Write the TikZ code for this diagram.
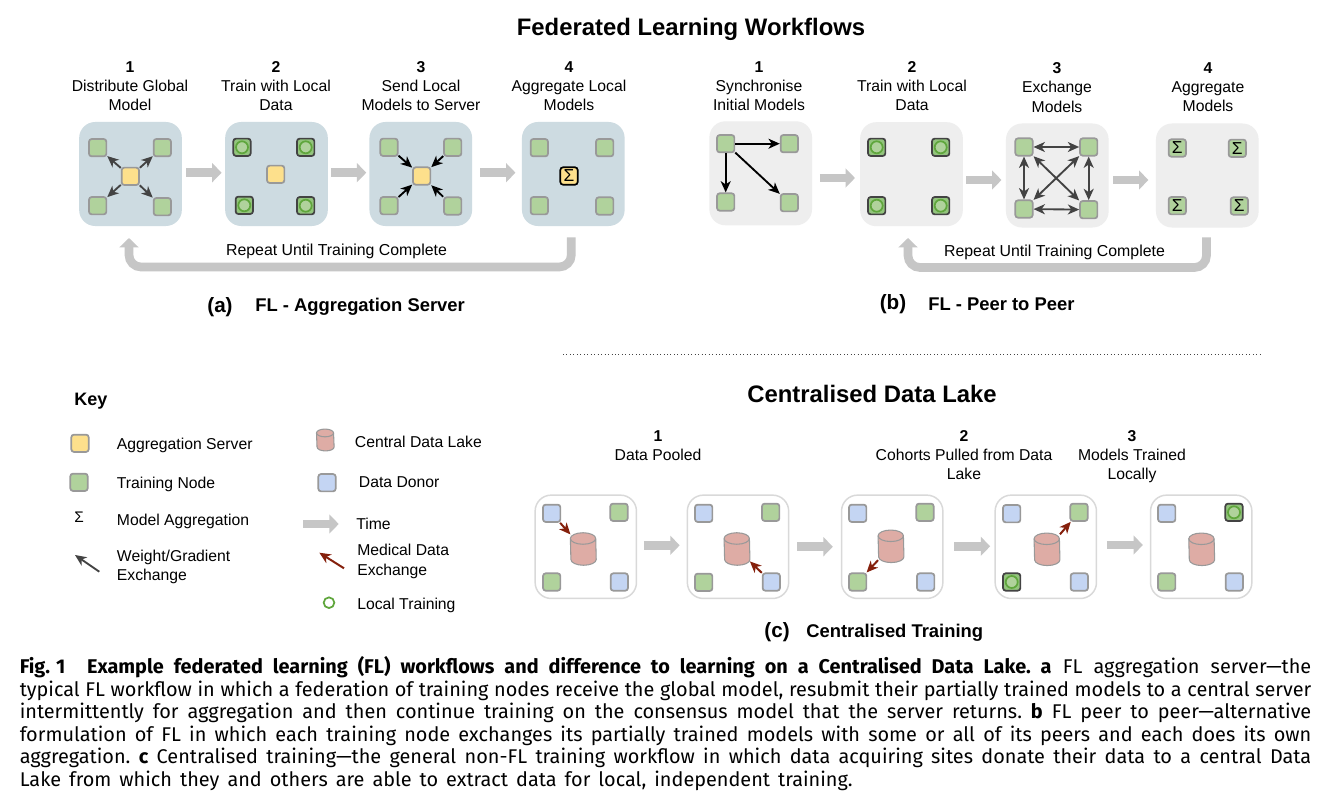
\documentclass[tikz,border=0pt]{standalone}
\usepackage{fontspec}
\setmainfont{Liberation Sans}
\newfontfamily\capfont[WordSpace={1,1,2.2}]{Fira Sans}
\usetikzlibrary{arrows.meta,shapes.geometric,calc}
\definecolor{panelblue}{HTML}{CDDBE1}
\definecolor{panelgrey}{HTML}{EEEEEE}
\definecolor{panelline}{HTML}{D9D9D9}
\definecolor{nodegreen}{HTML}{B0D29C}
\definecolor{nodeyellow}{HTML}{FDE08C}
\definecolor{nodeblue}{HTML}{C4D5F3}
\definecolor{nodeline}{HTML}{999999}
\definecolor{darkline}{HTML}{434343}
\definecolor{ringgreen}{HTML}{5FA63C}
\definecolor{trainfill}{HTML}{93C47D}
\definecolor{redarrow}{HTML}{85200C}
\definecolor{timegrey}{HTML}{C6C6C6}
\definecolor{lakefill}{HTML}{DEACA5}
\tikzset{
  x=0.75pt,y=-0.75pt,
  panelA/.style={rectangle,rounded corners=12pt,fill=panelblue,minimum width=77pt,minimum height=78pt,inner sep=0},
  panelB/.style={rectangle,rounded corners=12pt,fill=panelgrey,minimum width=77pt,minimum height=78pt,inner sep=0},
  panelC/.style={rectangle,rounded corners=12pt,fill=white,draw=panelline,line width=1.1pt,minimum width=76pt,minimum height=77.5pt,inner sep=0},
  box/.style={rectangle,rounded corners=2pt,draw=nodeline,line width=1.3pt,minimum size=13pt,inner sep=0,font=\fontsize{13}{13}\selectfont},
  green/.style={box,fill=nodegreen},
  yellow/.style={box,fill=nodeyellow},
  blue/.style={box,fill=nodeblue},
  trained/.style={box,fill=trainfill,draw=darkline},
  sumserver/.style={box,fill=nodeyellow,draw=black},
  ring/.style={circle,draw=ringgreen,fill=nodegreen,line width=1.3pt,minimum size=9pt,inner sep=0},
  lakeframe/.style={rectangle,inner sep=0},
  lakebody/.style={draw=nodeline,line width=0.8pt,fill=lakefill},
  lakerim/.style={draw=nodeline,line width=0.8pt},
  timearrow/.style={draw=timegrey,line width=6.5pt,-{Triangle[length=7pt,width=14pt,fill=timegrey]}},
  looparrow/.style={draw=timegrey,line width=6.5pt,rounded corners=9pt,-{Triangle[length=7pt,width=14pt,fill=timegrey]}},
  wgrey/.style={draw=darkline,line width=1.4pt,-{Stealth[length=8.5pt,width=7.5pt,inset=2.5pt]}},
  wgreyb/.style={draw=darkline,line width=1.4pt,{Stealth[length=8.5pt,width=7.5pt,inset=2.5pt]}-{Stealth[length=8.5pt,width=7.5pt,inset=2.5pt]}},
  wblack/.style={draw=black,line width=1.4pt,-{Stealth[length=8.5pt,width=7.5pt,inset=2.5pt]}},
  medarrow/.style={draw=redarrow,line width=1.5pt,-{Stealth[length=8.5pt,width=7.5pt,inset=2.5pt]}},
  step label/.style={align=center,anchor=north,inner sep=0,font=\fontsize{11.8}{14.4}\selectfont,text=black},
  body/.style={anchor=west,inner sep=0,font=\fontsize{11.8}{14.4}\selectfont,align=left},
  repeat label/.style={inner sep=0,font=\fontsize{11.9}{14.4}\selectfont},
  heading/.style={inner sep=0,font=\fontsize{17.9}{20}\selectfont\bfseries},
  sub/.style={inner sep=0,font=\fontsize{13.8}{15}\selectfont\bfseries},
  subletter/.style={inner sep=0,font=\fontsize{15.5}{16}\selectfont\bfseries},
  capline/.style={anchor=base west,inner sep=0,font=\fontsize{14.9}{16}\capfont\frenchspacing},
}
% time arrow: from panel, to panel, y, gap at start, gap at end
\newcommand{\tarrow}[5]{\draw[timearrow,shorten <=#4pt,shorten >=#5pt] (#1.east |- 0,#3) -- (#2.west |- 0,#3);}
% data lake: name, x, y, width (pt), height (pt)
\newcommand{\lakeshape}[5]{%
  \node[lakeframe,minimum width=#4pt,minimum height=#5pt] (#1) at (#2,#3) {};
  \pgfmathsetmacro{\lrx}{#4/2}\pgfmathsetmacro{\lry}{#4/4.4}
  \draw[lakebody] ([yshift=-\lry pt]#1.north west) arc[start angle=180,end angle=0,x radius=\lrx pt,y radius=\lry pt] -- ([yshift=\lry pt]#1.south east) arc[start angle=0,end angle=-180,x radius=\lrx pt,y radius=\lry pt] -- cycle;
  \draw[lakerim] ([yshift=-\lry pt]#1.north west) arc[start angle=180,end angle=360,x radius=\lrx pt,y radius=\lry pt];
}
\newcommand{\capjust}[1]{\resizebox{968.6pt}{!}{\makebox[968.6pt][s]{#1}}}
\begin{document}
\begin{tikzpicture}
\useasboundingbox (0,0) rectangle (1338,806);
\fill[white] (0,0) rectangle (1338,806);

% ---------- headings
\node[heading] (title1) at (691,29.5) {Federated Learning Workflows};
\node[heading] (title2) at (872,394) {Centralised Data Lake};

% ---------- (a) panels
\node[panelA] (a1) at (130.5,174) {};
\node[panelA] (a2) at (276.5,174) {};
\node[panelA] (a3) at (420.8,174) {};
\node[panelA] (a4) at (573.3,174) {};

\node[step label] (la1) at (130,61) {\textbf{1}\\Distribute Global\\Model};
\node[step label] (la2) at (276,61) {\textbf{2}\\Train with Local\\Data};
\node[step label] (la3) at (421,61) {\textbf{3}\\Send Local\\Models to Server};
\node[step label] (la4) at (569,61) {\textbf{4}\\Aggregate Local\\Models};

\node[green] (a1tl) at (97.7,147.7) {};
\node[green] (a1tr) at (162.3,147.7) {};
\node[green] (a1bl) at (97.7,205.7) {};
\node[green] (a1br) at (162.3,206.7) {};
\node[yellow] (a1c) at (130.3,176.3) {};
\foreach \n in {tl,tr,bl,br} \draw[wgrey] (a1c) -- (a1\n);

\node[trained] (a2tl) at (242,147.3) {};
\node[trained] (a2tr) at (305.7,147.3) {};
\node[trained] (a2bl) at (244.3,205.3) {};
\node[trained] (a2br) at (305.7,205.7) {};
\foreach \n in {tl,tr,bl,br} \node[ring] (a2r\n) at (a2\n) {};
\node[yellow] (a2c) at (275.7,174.3) {};

\node[green] (a3tl) at (389,147.3) {};
\node[green] (a3tr) at (452.7,147.3) {};
\node[green] (a3bl) at (389,205.7) {};
\node[green] (a3br) at (452.7,206) {};
\node[yellow] (a3c) at (421.7,176) {};
\foreach \n in {tl,tr,bl,br} \draw[wblack] (a3\n) -- (a3c);

\node[green] (a4tl) at (539.3,147.7) {};
\node[green] (a4tr) at (604.7,147.7) {};
\node[green] (a4bl) at (539.3,205.7) {};
\node[green] (a4br) at (604.7,206) {};
\node[sumserver] (a4c) at (569,176) {Σ};

\tarrow{a1}{a2}{172.7}{3}{2.5}
\tarrow{a2}{a3}{172.7}{2}{2.2}
\tarrow{a3}{a4}{172.7}{5.8}{4.7}

\coordinate (loopas) at (571.3,237.3);
\coordinate (loopae) at (129,238);
\draw[looparrow] (loopas) -- (loopas |- 0,267) -- (loopae |- 0,267) -- (loopae);
\node[repeat label] (ra) at (336.5,251) {Repeat Until Training Complete};
\node[subletter] (suba) at (220,307) {(a)};
\node[sub,anchor=west] (subat) at (255,306.5) {FL - Aggregation Server};

% ---------- (b) panels
\node[panelB] (b1) at (760.7,173.3) {};
\node[panelB] (b2) at (911.5,174.2) {};
\node[panelB] (b3) at (1057.3,175.5) {};
\node[panelB] (b4) at (1207.3,175.5) {};

\node[step label] (lb1) at (759,61) {\textbf{1}\\Synchronise\\Initial Models};
\node[step label] (lb2) at (912,61) {\textbf{2}\\Train with Local\\Data};
\node[step label] (lb3) at (1057,62.5) {\textbf{3}\\Exchange\\Models};
\node[step label] (lb4) at (1208,62.5) {\textbf{4}\\Aggregate\\Models};

\node[green] (b1tl) at (725.7,143.7) {};
\node[green] (b1tr) at (789.3,143.7) {};
\node[green] (b1bl) at (725.7,202) {};
\node[green] (b1br) at (789.3,202.7) {};
\foreach \n in {tr,bl,br} \draw[wblack] (b1tl) -- (b1\n);

\node[trained] (b2tl) at (876.7,147.3) {};
\node[trained] (b2tr) at (940.7,147.3) {};
\node[trained] (b2bl) at (876.7,205.7) {};
\node[trained] (b2br) at (940.7,205.7) {};
\foreach \n in {tl,tr,bl,br} \node[ring] (b2r\n) at (b2\n) {};

\node[green] (b3tl) at (1024,147) {};
\node[green] (b3tr) at (1088.7,147) {};
\node[green] (b3bl) at (1024,209) {};
\node[green] (b3br) at (1088.7,209.7) {};
\draw[wgreyb] (b3tl) -- (b3tr);
\draw[wgreyb] (b3bl) -- (b3br);
\draw[wgreyb] (b3tl) -- (b3bl);
\draw[wgreyb] (b3tr) -- (b3br);
\draw[wgreyb] (b3tl) -- (b3br);
\draw[wgreyb] (b3tr) -- (b3bl);

\node[green] (b4tl) at (1177.3,148) {Σ};
\node[green] (b4tr) at (1237.3,148.3) {Σ};
\node[green] (b4bl) at (1177.3,205.7) {Σ};
\node[green] (b4br) at (1239.3,206) {Σ};

\tarrow{b1}{b2}{178}{5.6}{3.7}
\tarrow{b2}{b3}{180}{2.5}{3.2}
\tarrow{b3}{b4}{180}{3.2}{5.5}

\coordinate (loopbs) at (1206.5,237.3);
\coordinate (loopbe) at (908,238);
\draw[looparrow] (loopbs) -- (loopbs |- 0,267.5) -- (loopbe |- 0,267.5) -- (loopbe);
\node[repeat label] (rb) at (1054.5,252) {Repeat Until Training Complete};
\node[subletter] (subb) at (893,304) {(b)};
\node[sub,anchor=west] (subbt) at (928,304) {FL - Peer to Peer};

% ---------- divider
\coordinate (dl) at (563,354);
\coordinate (dr) at (1261,354);
\draw[line width=0.6pt,dotted,draw=darkline] (dl) -- (dr);

% ---------- Key
\node[inner sep=0,anchor=west,font=\fontsize{13.5}{15}\selectfont\bfseries] (keyt) at (74,401.5) {Key};
\node[yellow] (ky) at (80,443.3) {};
\node[body] (kyt) at (116.7,445.5) {Aggregation Server};
\node[green] (kg) at (79,482.3) {};
\node[body] (kgt) at (116.7,484) {Training Node};
\node[inner sep=0,font=\fontsize{11.5}{12}\selectfont] (ks) at (79,517.5) {Σ};
\node[body] (kst) at (116.7,521.5) {Model Aggregation};
\coordinate (kw1) at (99.3,571.7);
\coordinate (kw2) at (75,555);
\draw[wgrey] (kw1) -- (kw2);
\node[body] (kwt) at (116.7,567) {Weight/Gradient\\Exchange};

\lakeshape{kl}{325.3}{440}{12.8}{16}
\node[body] (klt) at (354.7,442) {Central Data Lake};
\node[blue] (kb) at (327,482.7) {};
\node[body] (kbt) at (358.7,482.5) {Data Donor};
\coordinate (kt1) at (303,524);
\coordinate (kt2) at (338.7,524);
\draw[timearrow] (kt1) -- (kt2);
\node[body] (ktt) at (356,524) {Time};
\coordinate (km1) at (344,568.3);
\coordinate (km2) at (319.3,552.7);
\draw[medarrow] (km1) -- (km2);
\node[body] (kmt) at (357,561.5) {Medical Data\\Exchange};
\node[circle,draw=ringgreen,line width=1.3pt,minimum size=8pt,inner sep=0] (kr) at (329,602.7) {};
\node[body] (krt) at (357,605) {Local Training};

% ---------- (c) panels
\node[step label] (lc1) at (658,430.3) {\textbf{1}\\Data Pooled};
\node[step label] (lc2) at (964,430.3) {\textbf{2}\\Cohorts Pulled from Data\\Lake};
\node[step label] (lc3) at (1132,430.3) {\textbf{3}\\Models Trained\\Locally};

\node[panelC] (c1) at (585.8,546.8) {};
\node[panelC] (c2) at (738,546.8) {};
\node[panelC] (c3) at (892.2,546.8) {};
\node[panelC] (c4) at (1045.8,546.8) {};
\node[panelC] (c5) at (1201.2,546.8) {};

\node[blue] (c1tl) at (551.7,513.3) {};
\node[green] (c1tr) at (619,512.3) {};
\node[green] (c1bl) at (551.7,582) {};
\node[blue] (c1br) at (619.3,582) {};
\lakeshape{c1l}{583.3}{549}{19}{24}
\draw[medarrow] (c1tl) -- (c1l);

\node[blue] (c2tl) at (703.7,513.3) {};
\node[green] (c2tr) at (770.7,512.3) {};
\node[green] (c2bl) at (703.7,582.3) {};
\node[blue] (c2br) at (771.3,582) {};
\lakeshape{c2l}{737}{549}{19}{24}
\draw[medarrow] (c2br) -- (c2l);

\node[blue] (c3tl) at (857.7,513.3) {};
\node[green] (c3tr) at (925,512.3) {};
\node[green] (c3bl) at (857.7,582) {};
\node[blue] (c3br) at (925.7,582) {};
\lakeshape{c3l}{891}{546.3}{19}{24}
\draw[medarrow] (c3l) -- (c3bl);

\node[blue] (c4tl) at (1011.7,513.7) {};
\node[green] (c4tr) at (1079,512.3) {};
\node[trained] (c4bl) at (1011.7,582) {};
\node[ring] (c4r) at (c4bl) {};
\node[blue] (c4br) at (1079.3,582) {};
\lakeshape{c4l}{1047}{549.3}{19}{24}
\draw[medarrow] (c4l) -- (c4tr);

\node[blue] (c5tl) at (1166.7,513.3) {};
\node[trained] (c5tr) at (1234,512.3) {};
\node[ring] (c5r) at (c5tr) {};
\node[green] (c5bl) at (1166.7,582) {};
\node[blue] (c5br) at (1234.3,582) {};
\lakeshape{c5l}{1201.7}{549.3}{19}{24}

\tarrow{c1}{c2}{545.3}{5}{5.2}
\tarrow{c2}{c3}{546.7}{5.8}{6}
\tarrow{c3}{c4}{546.3}{8}{3.2}
\tarrow{c4}{c5}{545}{7.3}{5.2}

\node[subletter] (subc) at (777,632.5) {(c)};
\node[sub,anchor=west] (subct) at (806,632.5) {Centralised Training};

% ---------- caption
\node[capline] (cap1) at (19.5,673.3) {\capjust{\textbf{\mbox{Fig.\hspace{0.3em}1}\hspace{1.1em}Example federated learning (FL) workflows and difference to learning on a Centralised Data Lake. a} FL aggregation server—the}};
\node[capline] (cap2) at (19.5,696) {\capjust{typical FL workflow in which a federation of training nodes receive the global model, resubmit their partially trained models to a central server}};
\node[capline] (cap3) at (19.5,718.5) {\capjust{intermittently for aggregation and then continue training on the consensus model that the server returns. \textbf{b} FL peer to peer—alternative}};
\node[capline] (cap4) at (19.5,741) {\capjust{formulation of FL in which each training node exchanges its partially trained models with some or all of its peers and each does its own}};
\node[capline] (cap5) at (19.5,763.5) {\capjust{aggregation. \textbf{c} Centralised training—the general non-FL training workflow in which data acquiring sites donate their data to a central Data}};
\node[capline] (cap6) at (19.5,786) {\makebox[624.7pt][s]{Lake from which they and others are able to extract data for local, independent training.}};
\end{tikzpicture}
\end{document}
